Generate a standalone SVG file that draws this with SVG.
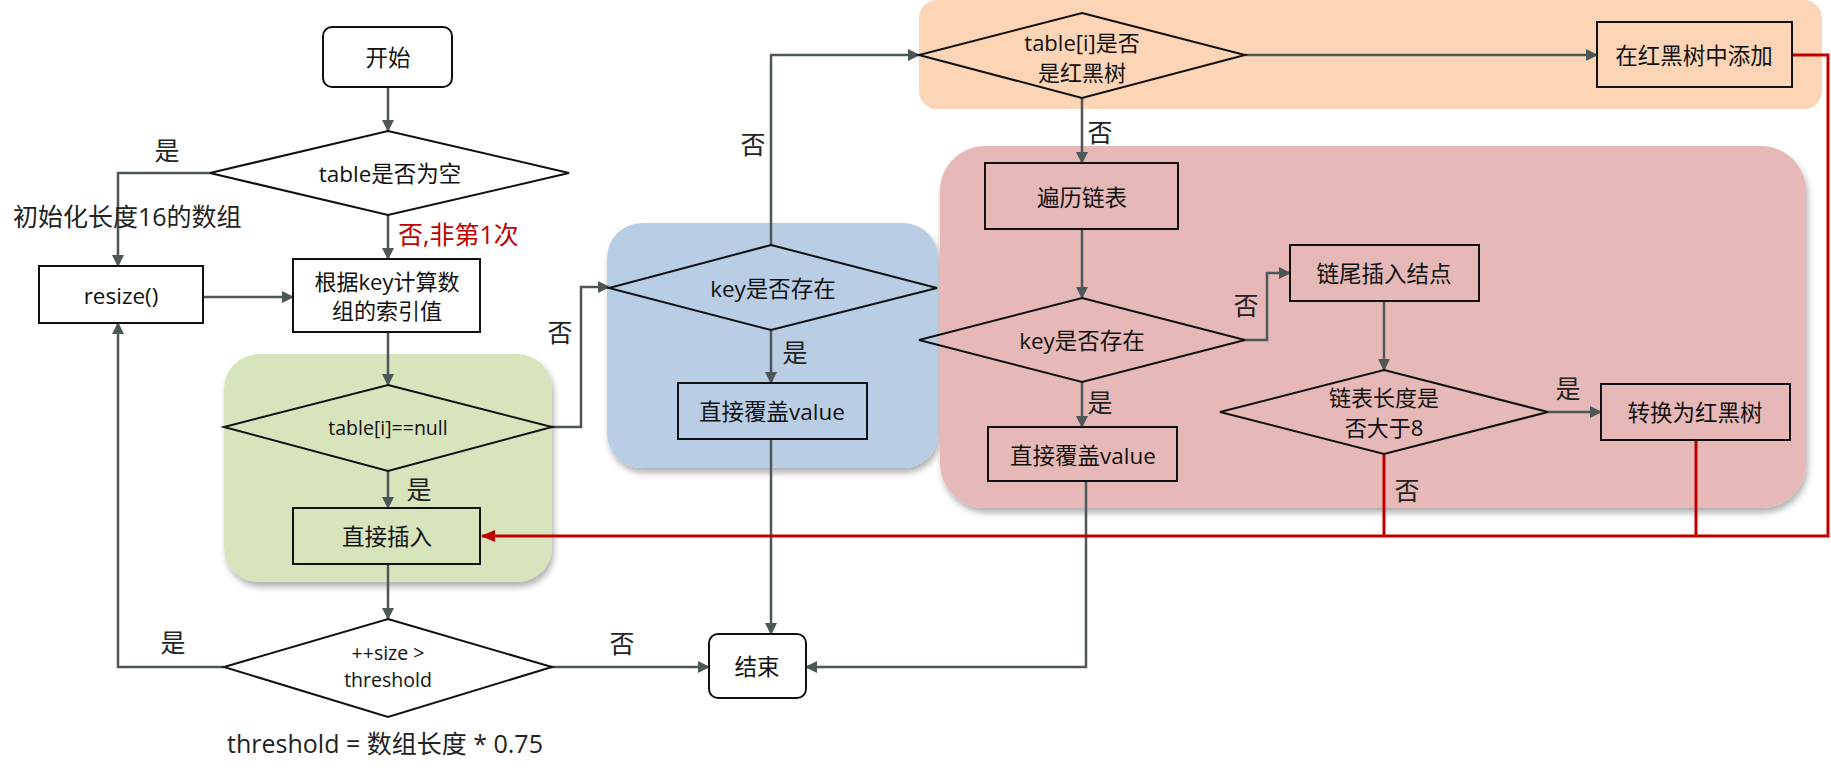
<svg xmlns="http://www.w3.org/2000/svg" width="1831" height="773" viewBox="0 0 1831 773">
<defs>
<marker id="ah" markerWidth="12" markerHeight="12" refX="11" refY="6" orient="auto" markerUnits="userSpaceOnUse"><path d="M0,0 L12,6 L0,12 z" fill="#4e5757"/></marker>
<marker id="ahr" markerWidth="14" markerHeight="14" refX="13" refY="7" orient="auto" markerUnits="userSpaceOnUse"><path d="M0,1 L14,7 L0,13 z" fill="#c00000"/></marker>
<filter id="sh" x="-5%" y="-5%" width="115%" height="120%"><feDropShadow dx="2" dy="5" stdDeviation="3" flood-color="#000" flood-opacity="0.3"/></filter>
<style>
text{font-family:"Open Sans","Noto Sans CJK SC",sans-serif;fill:#111;text-anchor:middle;dominant-baseline:central;font-size:22.5px}
.lbl{font-size:25px;fill:#222}
.sm{font-size:19.5px}
.two{font-size:22px}
.box{fill:none;stroke:#111;stroke-width:2}
.wbox{fill:#fff;stroke:#111;stroke-width:2}
.c{fill:none;stroke:#4e5757;stroke-width:2.5;marker-end:url(#ah)}
.r{fill:none;stroke:#c00000;stroke-width:3}
</style>
</defs>
<g id="regions">
<rect x="224" y="354" width="328" height="228" rx="35" fill="#d8e4bc" filter="url(#sh)"/>
<rect x="607" y="223" width="331" height="245" rx="35" fill="#b9cde5" filter="url(#sh)"/>
<rect x="919" y="0" width="903" height="109" rx="18" fill="#fbd5b5"/>
<rect x="940" y="146" width="866" height="362" rx="45" fill="#e6b9b8" filter="url(#sh)"/>
</g>
<g id="connectors">
<path class="c" d="M388,87 V131"/>
<path class="c" d="M210,173 H118 V266"/>
<path class="c" d="M388,215 V259"/>
<path class="c" d="M203,297 H293"/>
<path class="c" d="M388,332 V385"/>
<path class="c" d="M388,471 V508"/>
<path class="c" d="M550,427 H581 V287 H609"/>
<path class="c" d="M388,564 V619"/>
<path class="c" d="M224,667 H118 V323"/>
<path class="c" d="M550,667 H709"/>
<path class="c" d="M771,330 V383"/>
<path class="c" d="M771,245 V55 H919"/>
<path class="c" d="M771,439 V634"/>
<path class="c" d="M1245,55 H1597"/>
<path class="c" d="M1082,98 V163"/>
<path class="c" d="M1082,229 V298"/>
<path class="c" d="M1082,382 V427"/>
<path class="c" d="M1245,340 H1267 V273 H1290"/>
<path class="c" d="M1384,301 V370"/>
<path class="c" d="M1548,412 H1601"/>
<path class="c" d="M1086,481 V667 H806"/>
<path class="r" d="M1384,454 V536"/>
<path class="r" d="M1696,440 V536"/>
<path class="r" d="M1792,55 H1828 V536 H482" marker-end="url(#ahr)"/>
</g>
<g id="start"><rect class="wbox" x="323" y="27" width="129" height="60" rx="9"/><text x="388" y="57">开始</text></g>
<g id="tableEmpty"><polygon class="wbox" points="388,131 569,173 388,215 210,173"/><text x="390" y="173">table是否为空</text></g>
<g id="resize"><rect class="box" x="39" y="266" width="164" height="57"/><text x="121" y="295">resize()</text></g>
<g id="calcIndex"><rect class="box" x="293" y="259" width="187" height="73"/><text x="387" y="281" class="two">根据key计算数</text><text x="387" y="310" class="two">组的索引值</text></g>
<g id="tableNull"><polygon class="box" points="388,385 552,427 388,471 224,427"/><text x="388" y="427" class="sm">table[i]==null</text></g>
<g id="directInsert"><rect class="box" x="293" y="508" width="187" height="56"/><text x="387" y="536">直接插入</text></g>
<g id="sizeCheck"><polygon class="wbox" points="388,619 552,667 388,717 224,667"/><text x="388" y="652" class="sm">++size &gt;</text><text x="388" y="679" class="sm">threshold</text></g>
<g id="end"><rect class="wbox" x="709" y="634" width="97" height="64" rx="9"/><text x="757" y="666">结束</text></g>
<g id="keyExists1"><polygon class="box" points="771,245 937,288 771,330 609,288"/><text x="773" y="288">key是否存在</text></g>
<g id="cover1"><rect class="box" x="678" y="383" width="189" height="56"/><text x="772" y="411">直接覆盖value</text></g>
<g id="isTree"><polygon class="box" points="1082,13 1245,55 1082,98 919,55"/><text x="1082" y="42" class="two">table[i]是否</text><text x="1082" y="72" class="two">是红黑树</text></g>
<g id="treeAdd"><rect class="box" x="1597" y="22" width="195" height="65"/><text x="1694" y="55">在红黑树中添加</text></g>
<g id="traverse"><rect class="box" x="985" y="163" width="193" height="66"/><text x="1082" y="197">遍历链表</text></g>
<g id="keyExists2"><polygon class="box" points="1082,298 1245,340 1082,382 919,340"/><text x="1082" y="340">key是否存在</text></g>
<g id="cover2"><rect class="box" x="988" y="427" width="189" height="54"/><text x="1083" y="455">直接覆盖value</text></g>
<g id="tailInsert"><rect class="box" x="1290" y="245" width="189" height="56"/><text x="1384" y="273">链尾插入结点</text></g>
<g id="lenCheck"><polygon class="box" points="1384,370 1548,412 1384,454 1220,412"/><text x="1384" y="397" class="two">链表长度是</text><text x="1384" y="427" class="two">否大于8</text></g>
<g id="toTree"><rect class="box" x="1601" y="384" width="189" height="56"/><text x="1695" y="412">转换为红黑树</text></g>
<g id="labels">
<text class="lbl" x="167" y="150">是</text>
<text class="lbl" x="13" y="216" style="text-anchor:start">初始化长度16的数组</text>
<text class="lbl" x="398" y="234" style="text-anchor:start;fill:#c00000">否,非第1次</text>
<text class="lbl" x="560" y="332">否</text>
<text class="lbl" x="419" y="489">是</text>
<text class="lbl" x="173" y="642">是</text>
<text class="lbl" x="622" y="643">否</text>
<text class="lbl" x="385" y="743">threshold = 数组长度 * 0.75</text>
<text class="lbl" x="753" y="144">否</text>
<text class="lbl" x="795" y="352">是</text>
<text class="lbl" x="1100" y="132">否</text>
<text class="lbl" x="1100" y="402">是</text>
<text class="lbl" x="1246" y="305">否</text>
<text class="lbl" x="1568" y="388">是</text>
<text class="lbl" x="1407" y="490">否</text>
</g>
</svg>
